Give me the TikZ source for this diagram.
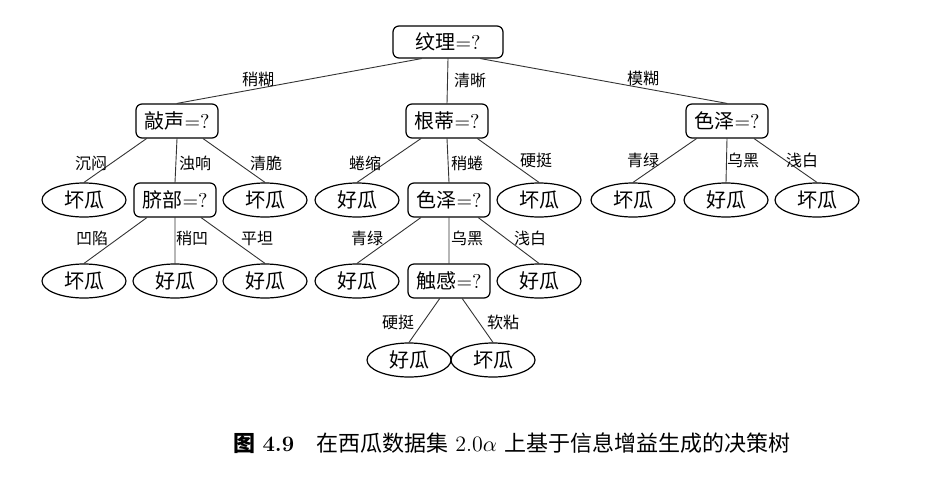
\documentclass[tikz,border=0pt]{standalone}
\usepackage{fontspec}
\newfontfamily\cjk{Noto Sans CJK SC}
\usetikzlibrary{shapes.geometric}
\newcommand{\ask}[1]{{\cjk #1}=?}
\tikzset{
  qbox/.style={draw, line width=0.6pt, rounded corners=3pt, minimum width=41pt, minimum height=17pt, inner sep=0pt},
  rootbox/.style={qbox, minimum width=55pt, minimum height=16pt},
  leaf/.style={draw, line width=0.6pt, ellipse, minimum width=42pt, minimum height=17pt, inner sep=0pt, font=\cjk},
  lbl/.style={font=\footnotesize\cjk},
  branch/.style={line width=0.45pt, black!80}
}
\begin{document}
\begin{tikzpicture}[x=0.5pt, y=-0.5pt, line join=round, line cap=round]
  \useasboundingbox (0,0) rectangle (925,483);
  % inner nodes
  \node[rootbox] (wl) at (448,42) {\ask{纹理}};
  \node[qbox] (qs) at (177,121) {\ask{敲声}};
  \node[qbox] (gd) at (447,121) {\ask{根蒂}};
  \node[qbox] (szr) at (727,121) {\ask{色泽}};
  \node[qbox] (qb) at (175,200) {\ask{脐部}};
  \node[qbox] (szm) at (449,200) {\ask{色泽}};
  \node[qbox] (cg) at (449,281) {\ask{触感}};
  % leaves
  \node[leaf] (l1) at (84,200) {坏瓜};
  \node[leaf] (l2) at (265,200) {坏瓜};
  \node[leaf] (l3) at (357,200) {好瓜};
  \node[leaf] (l4) at (539,200) {坏瓜};
  \node[leaf] (l5) at (633,200) {坏瓜};
  \node[leaf] (l6) at (726,200) {好瓜};
  \node[leaf] (l7) at (817,200) {坏瓜};
  \node[leaf] (l8) at (84,281) {坏瓜};
  \node[leaf] (l9) at (175,281) {好瓜};
  \node[leaf] (l10) at (265,281) {好瓜};
  \node[leaf] (l11) at (357,281) {好瓜};
  \node[leaf] (l12) at (539,281) {好瓜};
  \node[leaf] (l13) at (409,360) {好瓜};
  \node[leaf] (l14) at (493,360) {坏瓜};
  % branches
  \draw[branch] (wl.-148)--(qs.north) (wl.south)--(gd.north) (wl.-27)--(szr.north);
  \draw[branch] (qs.-150)--(l1.north) (qs.south)--(qb.north) (qs.-34)--(l2.north);
  \draw[branch] (gd.-146)--(l3.north) (gd.south)--(szm.north) (gd.-30)--(l4.north);
  \draw[branch] (szr.-150)--(l5.north) (szr.south)--(l6.north) (szr.-33)--(l7.north);
  \draw[branch] (qb.-148)--(l8.north) (qb.south)--(l9.north) (qb.-34)--(l10.north);
  \draw[branch] (szm.-148)--(l11.north) (szm.south)--(cg.north) (szm.-31)--(l12.north);
  \draw[branch] (cg.-118)--(l13.north) (cg.-53)--(l14.north);
  % branch labels
  \node[lbl] (t1) at (258,80) {稍糊};
  \node[lbl] (t2) at (470,80) {清晰};
  \node[lbl] (t3) at (643,79) {模糊};
  \node[lbl] (t4) at (91,163) {沉闷};
  \node[lbl] (t5) at (195,163) {浊响};
  \node[lbl] (t6) at (266,163) {清脆};
  \node[lbl] (t7) at (365,163) {蜷缩};
  \node[lbl] (t8) at (467,163) {稍蜷};
  \node[lbl] (t9) at (536,160) {硬挺};
  \node[lbl] (t10) at (643,160) {青绿};
  \node[lbl] (t11) at (743,160) {乌黑};
  \node[lbl] (t12) at (802,160) {浅白};
  \node[lbl] (t13) at (92,238) {凹陷};
  \node[lbl] (t14) at (192,238) {稍凹};
  \node[lbl] (t15) at (257,238) {平坦};
  \node[lbl] (t16) at (367,238) {青绿};
  \node[lbl] (t17) at (467,238) {乌黑};
  \node[lbl] (t18) at (530,238) {浅白};
  \node[lbl] (t19) at (398,322) {硬挺};
  \node[lbl] (t20) at (503,322) {软粘};
  % caption
  \node[anchor=west, inner sep=0pt, font=\fontsize{11}{13}\selectfont] (cap) at (233,443)
    {{\cjk\bfseries 图} \textbf{4.9}\quad{\cjk 在西瓜数据集} 2.0$\alpha$ {\cjk 上基于信息增益生成的决策树}};
\end{tikzpicture}
\end{document}
